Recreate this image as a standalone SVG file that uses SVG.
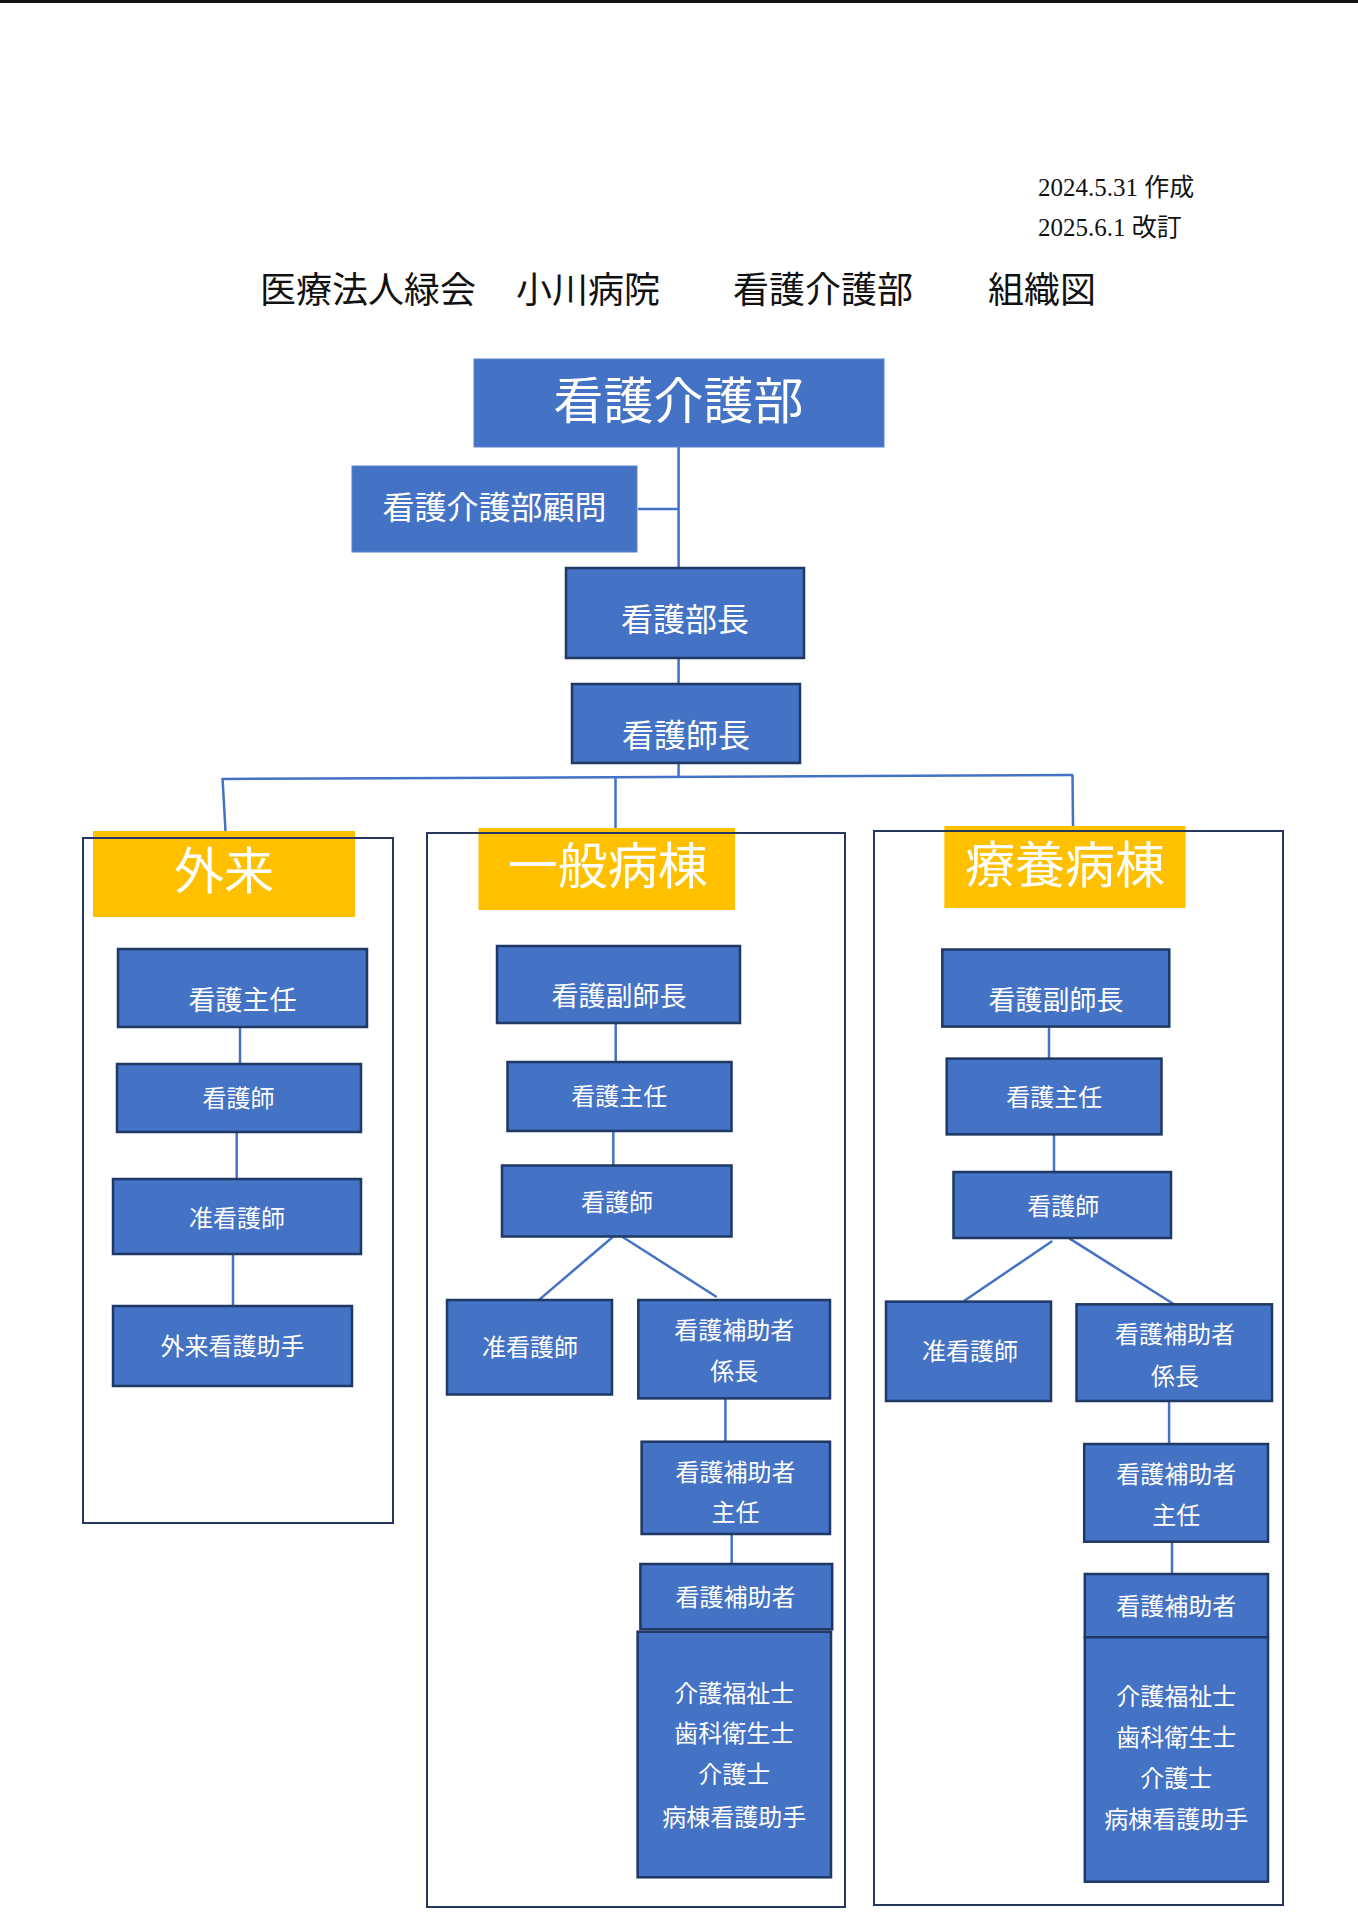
<svg xmlns="http://www.w3.org/2000/svg" width="1358" height="1920" viewBox="0 0 1358 1920">
<style>
.bg{fill:#ffffff}
.box{fill:#4472C4;stroke:#1F3864;stroke-width:2.5}
.boxl{fill:#4472C4;stroke:#5A82CC;stroke-width:1}
.yel{fill:#FFC000}
.frame{fill:none;stroke:#26375F;stroke-width:2}
.t{font-family:"Noto Sans CJK JP","Noto Sans CJK SC",sans-serif;fill:#ffffff;text-anchor:middle}
.hd{font-family:"Liberation Serif","Noto Sans CJK JP",serif;fill:#111111}
.ttl{font-family:"Noto Sans CJK JP","Noto Sans CJK SC",sans-serif;fill:#111111;font-size:36px}
.c{stroke:#4472C4;stroke-width:2.5;fill:none}
</style>
<rect class="bg" x="0" y="0" width="1358" height="1920"/>
<rect x="0" y="0" width="1358" height="3" fill="#111111"/>

<g id="header">
<text class="hd" x="1038" y="196" font-size="25">2024.5.31 作成</text>
<text class="hd" x="1038" y="236" font-size="25">2025.6.1 改訂</text>
<text class="ttl" y="303"><tspan x="260">医療法人緑会</tspan><tspan x="516">小川病院</tspan><tspan x="733">看護介護部</tspan><tspan x="988">組織図</tspan></text>
</g>

<g id="connectors">
<line class="c" x1="678.6" y1="447" x2="678.6" y2="568"/>
<line class="c" x1="638" y1="509" x2="678.6" y2="509"/>
<line class="c" x1="678.6" y1="658" x2="678.6" y2="684"/>
<line class="c" x1="678.6" y1="763" x2="678.6" y2="777"/>
<line class="c" x1="222" y1="779" x2="1073" y2="775"/>
<line class="c" x1="222.5" y1="778" x2="225.5" y2="831"/>
<line class="c" x1="615.5" y1="777" x2="615.5" y2="828"/>
<line class="c" x1="1072.5" y1="775" x2="1073" y2="826"/>
<line class="c" x1="240" y1="1027" x2="240" y2="1064"/>
<line class="c" x1="236.7" y1="1132" x2="236.7" y2="1179"/>
<line class="c" x1="233" y1="1254" x2="233" y2="1306"/>
<line class="c" x1="615.7" y1="1023" x2="615.7" y2="1062"/>
<line class="c" x1="613.3" y1="1131" x2="613.3" y2="1165.5"/>
<line class="c" x1="612.7" y1="1237" x2="539.3" y2="1299.6"/>
<line class="c" x1="622.7" y1="1237" x2="716.7" y2="1297"/>
<line class="c" x1="725.4" y1="1398.4" x2="725.4" y2="1441.7"/>
<line class="c" x1="731.7" y1="1534" x2="731.7" y2="1564"/>
<line class="c" x1="1049" y1="1026.6" x2="1049" y2="1058.6"/>
<line class="c" x1="1054" y1="1134.4" x2="1054" y2="1172"/>
<line class="c" x1="1052.3" y1="1241" x2="964" y2="1301"/>
<line class="c" x1="1069.3" y1="1238.4" x2="1174" y2="1304.3"/>
<line class="c" x1="1169.1" y1="1401" x2="1169.1" y2="1444"/>
<line class="c" x1="1172" y1="1541.7" x2="1172" y2="1574"/>
</g>

<g id="n-kango-kaigo-bu">
<rect class="boxl" x="474" y="359" width="410" height="88"/>
<text class="t" x="678.5" y="419" font-size="50">看護介護部</text>
</g>
<g id="n-komon">
<rect class="boxl" x="352" y="466" width="285" height="86"/>
<text class="t" x="494.5" y="519" font-size="32">看護介護部顧問</text>
</g>
<g id="n-buchou">
<rect class="box" x="566" y="568" width="238" height="90"/>
<text class="t" x="685" y="631" font-size="32">看護部長</text>
</g>
<g id="n-shichou">
<rect class="box" x="572" y="684" width="228" height="79"/>
<text class="t" x="686" y="747" font-size="32">看護師長</text>
</g>

<!-- 外来 -->
<g id="g-gairai">
<rect class="yel" x="93" y="831" width="262" height="86"/>
<text class="t" x="224" y="889" font-size="50">外来</text>
<rect class="frame" x="83" y="838" width="310" height="685"/>
</g>
<g id="n-gairai-shunin">
<rect class="box" x="118" y="949" width="249" height="78"/>
<text class="t" x="242.6" y="1010" font-size="27">看護主任</text>
</g>
<g id="n-gairai-kangoshi">
<rect class="box" x="117" y="1064" width="244" height="68"/>
<text class="t" x="238.5" y="1106.5" font-size="24">看護師</text>
</g>
<g id="n-gairai-jun">
<rect class="box" x="113" y="1179" width="248" height="75"/>
<text class="t" x="237" y="1226.7" font-size="24">准看護師</text>
</g>
<g id="n-gairai-joshu">
<rect class="box" x="113" y="1306" width="239" height="80"/>
<text class="t" x="232.5" y="1355" font-size="24">外来看護助手</text>
</g>

<!-- 一般病棟 -->
<g id="g-ippan">
<rect class="yel" x="478.5" y="828" width="256.5" height="82"/>
<text class="t" x="607.7" y="884" font-size="50">一般病棟</text>
<rect class="frame" x="427" y="833" width="418" height="1074"/>
</g>
<g id="n-ippan-fuku">
<rect class="box" x="497" y="946" width="243" height="77"/>
<text class="t" x="619" y="1006.3" font-size="27">看護副師長</text>
</g>
<g id="n-ippan-shunin">
<rect class="box" x="507.5" y="1062" width="224" height="69"/>
<text class="t" x="619.3" y="1105" font-size="24">看護主任</text>
</g>
<g id="n-ippan-kangoshi">
<rect class="box" x="502" y="1165.5" width="229.5" height="71"/>
<text class="t" x="617" y="1210.7" font-size="24">看護師</text>
</g>
<g id="n-ippan-jun">
<rect class="box" x="447" y="1300" width="165" height="94.5"/>
<text class="t" x="530" y="1356" font-size="24">准看護師</text>
</g>
<g id="n-ippan-kakari">
<rect class="box" x="638.3" y="1300" width="191.7" height="98.4"/>
<text class="t" x="734.3" y="1338.6" font-size="24">看護補助者</text>
<text class="t" x="734.3" y="1379.6" font-size="24">係長</text>
</g>
<g id="n-ippan-hojo-shunin">
<rect class="box" x="641.6" y="1441.7" width="188.4" height="92.3"/>
<text class="t" x="735.5" y="1480.8" font-size="24">看護補助者</text>
<text class="t" x="735.5" y="1521.4" font-size="24">主任</text>
</g>
<g id="n-ippan-hojo">
<rect class="box" x="640.4" y="1564" width="191.8" height="65.3"/>
<text class="t" x="735.5" y="1606.4" font-size="24">看護補助者</text>
</g>
<g id="n-ippan-staff">
<rect class="box" x="637.6" y="1631.7" width="193.4" height="245.6"/>
<text class="t" x="734.3" y="1701.8" font-size="24">介護福祉士</text>
<text class="t" x="734.3" y="1741.8" font-size="24">歯科衛生士</text>
<text class="t" x="734.3" y="1783.4" font-size="24">介護士</text>
<text class="t" x="734.3" y="1825.8" font-size="24">病棟看護助手</text>
</g>

<!-- 療養病棟 -->
<g id="g-ryouyou">
<rect class="yel" x="944.3" y="826" width="241.2" height="82"/>
<text class="t" x="1065" y="883" font-size="50">療養病棟</text>
<rect class="frame" x="874" y="831" width="409" height="1074"/>
</g>
<g id="n-ryouyou-fuku">
<rect class="box" x="942.3" y="949.5" width="227" height="77.1"/>
<text class="t" x="1056" y="1010.3" font-size="27">看護副師長</text>
</g>
<g id="n-ryouyou-shunin">
<rect class="box" x="946.7" y="1058.6" width="214.8" height="75.8"/>
<text class="t" x="1054.3" y="1106" font-size="24">看護主任</text>
</g>
<g id="n-ryouyou-kangoshi">
<rect class="box" x="953.5" y="1172" width="217.5" height="66"/>
<text class="t" x="1063.3" y="1214.7" font-size="24">看護師</text>
</g>
<g id="n-ryouyou-jun">
<rect class="box" x="886" y="1301.6" width="165" height="99.4"/>
<text class="t" x="970" y="1360" font-size="24">准看護師</text>
</g>
<g id="n-ryouyou-kakari">
<rect class="box" x="1076.5" y="1304.3" width="195.5" height="96.7"/>
<text class="t" x="1175" y="1343" font-size="24">看護補助者</text>
<text class="t" x="1175" y="1384.6" font-size="24">係長</text>
</g>
<g id="n-ryouyou-hojo-shunin">
<rect class="box" x="1084.2" y="1444" width="183.8" height="97.7"/>
<text class="t" x="1176.3" y="1483" font-size="24">看護補助者</text>
<text class="t" x="1176.3" y="1524" font-size="24">主任</text>
</g>
<g id="n-ryouyou-hojo">
<rect class="box" x="1084.8" y="1574" width="183.2" height="63.3"/>
<text class="t" x="1176.3" y="1614.8" font-size="24">看護補助者</text>
</g>
<g id="n-ryouyou-staff">
<rect class="box" x="1084.8" y="1637.3" width="183.2" height="244.4"/>
<text class="t" x="1176.3" y="1705" font-size="24">介護福祉士</text>
<text class="t" x="1176.3" y="1745.8" font-size="24">歯科衛生士</text>
<text class="t" x="1176.3" y="1786.8" font-size="24">介護士</text>
<text class="t" x="1176.3" y="1828.4" font-size="24">病棟看護助手</text>
</g>
</svg>
